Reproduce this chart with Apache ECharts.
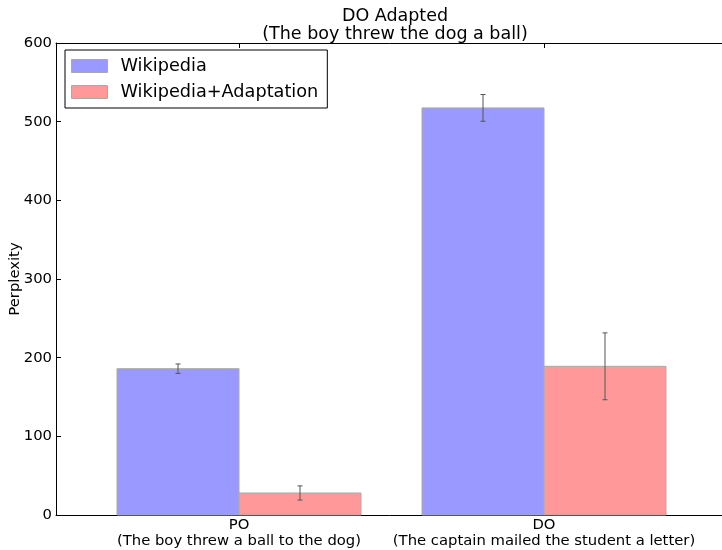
<!DOCTYPE html>
<html>
<head>
<meta charset="utf-8">
<script src="https://cdn.jsdelivr.net/npm/echarts@6/dist/echarts.min.js"></script>
<style>
  html, body { margin: 0; padding: 0; background: #fff; }
  #chart { width: 722px; height: 550px; }
</style>
</head>
<body>
<div id="chart"></div>
<script>
const categories = ['PO\n(The boy threw a ball to the dog)', 'DO\n(The captain mailed the student a letter)'];
const wikiValues = [186, 517.5];
const wikiErrors = [6, 17];
const adaptValues = [28, 189];
const adaptErrors = [9, 42.5];
const yTicks = [0, 100, 200, 300, 400, 500, 600];

const FONT = 'DejaVu Sans';
const BAR_W = 0.4;

function makeRender(offset) {
    return function(params, api) {
        const x = api.value(0);
        const y = api.value(1);
        const e = api.value(2);
        const p0 = api.coord([x + offset, y]);
        const p1 = api.coord([x + offset + BAR_W, 0]);
        const cx = api.coord([x + offset + BAR_W / 2, 0])[0];
        const top = api.coord([0, y + e])[1];
        const bot = api.coord([0, y - e])[1];
        const s = { stroke: '#555', lineWidth: 1 };
        return {
            type: 'group',
            children: [
                {
                    type: 'rect',
                    shape: { x: p0[0], y: p0[1], width: p1[0] - p0[0], height: p1[1] - p0[1] },
                    style: { fill: api.visual('color'), stroke: '#aaaaaa', lineWidth: 1 }
                },
                { type: 'line', shape: { x1: cx, y1: top, x2: cx, y2: bot }, style: s },
                { type: 'line', shape: { x1: cx - 2.5, y1: top, x2: cx + 2.5, y2: top }, style: s },
                { type: 'line', shape: { x1: cx - 2.5, y1: bot, x2: cx + 2.5, y2: bot }, style: s }
            ]
        };
    };
}

const chart = echarts.init(document.getElementById('chart'));

const axisLine = { show: true, onZero: false, lineStyle: { color: '#000', width: 1 } };

chart.setOption({
    animation: false,
    backgroundColor: '#fff',
    textStyle: { fontFamily: FONT },
    title: {
        text: 'DO Adapted\n(The boy threw the dog a ball)',
        left: 390,
        top: 2,
        textAlign: 'center',
        textStyle: { fontFamily: FONT, fontSize: 17.5, fontWeight: 'normal', color: '#000', lineHeight: 18 }
    },
    legend: {
        orient: 'vertical',
        left: 65,
        top: 50,
        padding: [7, 9, 7, 6],
        itemWidth: 36,
        itemHeight: 13,
        itemGap: 8,
        icon: 'rect',
        borderColor: '#000',
        borderWidth: 1,
        borderRadius: 0,
        backgroundColor: '#fff',
        textStyle: { fontFamily: FONT, fontSize: 17.7, color: '#000', padding: [0, 0, 0, 8], lineHeight: 18 },
        itemStyle: { borderColor: '#aaaaaa', borderWidth: 1 },
        data: ['Wikipedia', 'Wikipedia+Adaptation']
    },
    grid: { left: 56, right: -5, top: 43, bottom: 35, outerBoundsMode: 'none' },
    xAxis: [
        {
            type: 'value',
            min: -0.6,
            max: 1.6,
            position: 'bottom',
            axisLine: axisLine,
            splitLine: { show: false },
            axisTick: { show: true, inside: true, length: 5, customValues: [0, 1], lineStyle: { color: '#000' } },
            axisLabel: {
                show: true,
                customValues: [0, 1],
                margin: 2,
                fontFamily: FONT,
                fontSize: 14.8,
                lineHeight: 16,
                color: '#000',
                formatter: function(v) { return categories[Math.round(v)]; }
            }
        },
        {
            type: 'value',
            min: -0.6,
            max: 1.6,
            position: 'top',
            axisLine: axisLine,
            splitLine: { show: false },
            axisTick: { show: true, inside: true, length: 5, customValues: [0, 1], lineStyle: { color: '#000' } },
            axisLabel: { show: false }
        }
    ],
    yAxis: [
        {
            type: 'value',
            min: 0,
            max: 600,
            interval: 100,
            name: 'Perplexity',
            nameLocation: 'middle',
            nameGap: 33,
            nameMoveOverlap: false,
            nameRotate: 90,
            nameTextStyle: { fontFamily: FONT, fontSize: 14.8, color: '#000' },
            axisLine: axisLine,
            splitLine: { show: false },
            axisTick: { show: true, inside: true, length: 5, lineStyle: { color: '#000' } },
            axisLabel: {
                fontFamily: FONT, fontSize: 14.8, color: '#000', margin: 4,
                formatter: function(v) { return yTicks.indexOf(v) >= 0 ? String(v) : ''; }
            }
        },
        {
            type: 'value',
            min: 0,
            max: 600,
            interval: 100,
            position: 'right',
            axisLine: axisLine,
            splitLine: { show: false },
            axisTick: { show: true, inside: true, length: 5, lineStyle: { color: '#000' } },
            axisLabel: { show: false }
        }
    ],
    series: [
        {
            name: 'Wikipedia',
            type: 'custom',
            itemStyle: { color: '#9999ff' },
            renderItem: makeRender(-BAR_W),
            encode: { x: 0, y: 1 },
            data: wikiValues.map(function(v, i) { return [i, v, wikiErrors[i]]; })
        },
        {
            name: 'Wikipedia+Adaptation',
            type: 'custom',
            itemStyle: { color: '#ff9999' },
            renderItem: makeRender(0),
            encode: { x: 0, y: 1 },
            data: adaptValues.map(function(v, i) { return [i, v, adaptErrors[i]]; })
        }
    ]
});
</script>
</body>
</html>
